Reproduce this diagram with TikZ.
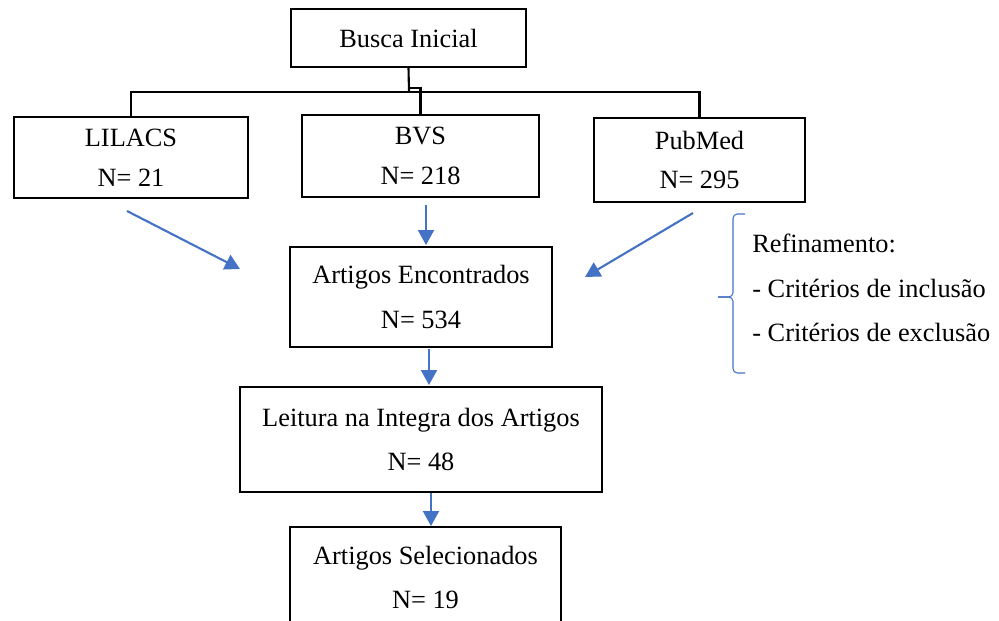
\documentclass[tikz,border=0pt]{standalone}
\usepackage{fontspec}
\setmainfont{Liberation Serif}
\usepackage{xcolor}
\usepackage{tikz}
\usetikzlibrary{arrows.meta}
\definecolor{arrowblue}{HTML}{4472C4}
\definecolor{frame}{HTML}{000000}
\tikzset{
  box/.style={draw=frame, line width=1.2pt, inner sep=0pt, align=center},
  topbox/.style={box, font=\fontsize{15}{22.7}\selectfont},
  stepbox/.style={box, font=\fontsize{15}{25.5}\selectfont},
  conn/.style={draw=frame, line width=1.2pt},
  arr/.style={draw=arrowblue, line width=1.2pt, -{Triangle[length=0.3cm,width=0.32cm]}},
  bracket/.style={draw=arrowblue, line width=0.6pt, rounded corners=2.5pt},
  lbl/.style={font=\fontsize{15}{25.5}\selectfont, align=left, inner sep=0pt}
}

\begin{document}
\begin{tikzpicture}[x=0.02cm, y=-0.02cm]
  \useasboundingbox (0,0) rectangle (999,621);

  % search and databases
  \node[topbox, minimum width=4.70cm, minimum height=1.16cm] (busca) at (408.5,38) {Busca Inicial};
  \node[topbox, minimum width=4.68cm, minimum height=1.62cm] (lilacs) at (131,157.5) {LILACS\\N= 21};
  \node[topbox, minimum width=4.74cm, minimum height=1.64cm] (bvs) at (420.5,156) {BVS\\N= 218};
  \node[topbox, minimum width=4.22cm, minimum height=1.68cm] (pubmed) at (699.5,160) {PubMed\\N= 295};

  \coordinate (split) at (409,92);
  \coordinate (jog) at (409,88);
  \draw[conn] (busca.south) -- (split);
  \draw[conn] (lilacs.north) |- (split) -| (pubmed.north);
  \draw[conn] (jog) -| (bvs.north);

  % steps
  \node[stepbox, minimum width=5.24cm, minimum height=2.00cm] (encontrados) at (421,297) {Artigos Encontrados\\N= 534};
  \node[stepbox, minimum width=7.24cm, minimum height=2.10cm] (leitura) at (421,439.5) {Leitura na Integra dos Artigos\\N= 48};
  \node[stepbox, minimum width=5.42cm, minimum height=2.02cm] (selecionados) at (425.5,577.5) {Artigos Selecionados\\N= 19};

  \coordinate (lilacsOut) at (127,211);
  \coordinate (lilacsIn) at (240,269);
  \coordinate (bvsOut) at (426,205);
  \coordinate (bvsIn) at (426,245);
  \coordinate (pubmedOut) at (693,213);
  \coordinate (pubmedIn) at (585,277);
  \coordinate (encOut) at (429,349);
  \coordinate (leiIn) at (429,385);
  \coordinate (leiOut) at (431,493);
  \coordinate (selIn) at (431,526);

  \draw[arr] (lilacsOut) -- (lilacsIn);
  \draw[arr] (bvsOut) -- (bvsIn);
  \draw[arr] (pubmedOut) -- (pubmedIn);
  \draw[arr] (encOut) -- (leiIn);
  \draw[arr] (leiOut) -- (selIn);

  % refinement
  \draw[bracket] (745,214) -- (733,214) -- (733,297) -- (718,297);
  \draw[bracket] (718,297) -- (733,297) -- (733,373) -- (745,373);
  \node[lbl, anchor=west] (refine) at (752,288) {Refinamento:\\- Critérios de inclusão\\- Critérios de exclusão};
\end{tikzpicture}
\end{document}
